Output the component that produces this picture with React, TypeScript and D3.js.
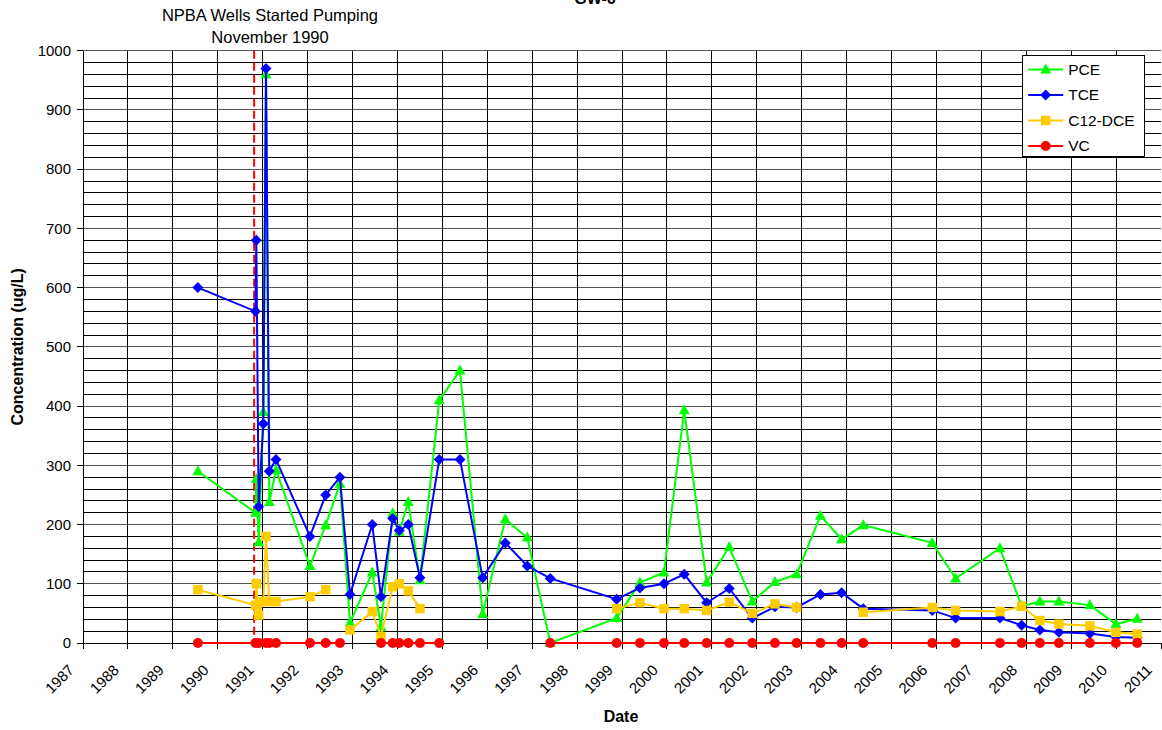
import React from 'react';
import * as d3 from 'd3';

// sample dates as decimal years
const sampleDates = [
  1989.558, 1990.84, 1990.858, 1990.911, 1991.014, 1991.074, 1991.147, 1991.297,
  1992.053, 1992.403, 1992.721, 1992.944, 1993.44, 1993.634, 1993.895, 1994.041,
  1994.242, 1994.502, 1994.932, 1995.393, 1995.898, 1996.401, 1996.891, 1997.403,
  1998.881, 1999.4, 1999.934, 2000.386, 2000.885, 2001.388, 2001.9, 2002.405,
  2002.888, 2003.418, 2003.89, 2004.371, 2005.907, 2006.428, 2007.414, 2007.897,
  2008.304, 2008.727, 2009.417, 2009.996, 2010.47,
];

const pce = [
  290, 220, 277, 170, 390, 960, 238, 292, 130, 199, 269, 34, 119, 27, 219, 188,
  238, 106, 410, 460, 49, 209, 178, 0, 42, 102, 119, 393, 102, 162, 70, 103,
  116, 215, 175, 199, 169, 109, 160, 62, 70, 70, 64, 32, 41,
];

const tce = [
  600, 560, 680, 230, 370, 970, 290, 310, 180, 250, 280, 82, 200, 78, 210, 190,
  200, 110, 310, 310, 110, 169, 130, 109, 74, 93, 100, 116, 68, 92, 42, 61,
  60, 82, 85, 58, 55, 42, 42, 30, 22, 18, 16, 10, 9,
];

const dce = [
  90, 64, 100, 47, 70, 180, 70, 70, 78, 90, null, 22, 53, 11, 95, 100,
  88, 58, null, null, null, null, null, null, 58, 68, 58, 58, 55, 69, 50, 66,
  60, null, null, 52, 60, 55, 53, 62, 38, 32, 29, 18, 15,
];

const vc = [
  0, 0, null, 0, null, 0, 0, 0, 0, 0, 0, null, null, 0, 0, 0,
  0, 0, 0, null, null, null, null, 0, 0, 0, 0, 0, 0, 0, 0, 0,
  0, 0, 0, 0, 0, 0, 0, 0, 0, 0, 0, 0, 0,
];

const yearTicks = d3.range(1987, 2012);
const concTicks = d3.range(0, 1001, 100);
const gridSteps = d3.range(0, 1001, 20);
const pumpingStart = 1990.81;

type Shape = 'triangle' | 'diamond' | 'square' | 'circle';

const seriesList: { name: string; values: (number | null)[]; color: string; shape: Shape }[] = [
  { name: 'PCE', values: pce, color: '#00FF00', shape: 'triangle' },
  { name: 'TCE', values: tce, color: '#0000FF', shape: 'diamond' },
  { name: 'C12-DCE', values: dce, color: '#FFCC00', shape: 'square' },
  { name: 'VC', values: vc, color: '#FF0000', shape: 'circle' },
];

const FONT = "'Liberation Sans', Arial, Helvetica, sans-serif";
const W = 1162;
const H = 730;

function Marker({ shape, color, cx, cy }: { shape: Shape; color: string; cx: number; cy: number }) {
  if (shape === 'triangle')
    return <path d={`M${cx},${cy - 6}L${cx + 5.5},${cy + 4}L${cx - 5.5},${cy + 4}Z`} fill={color} />;
  if (shape === 'diamond')
    return <path d={`M${cx},${cy - 5.5}L${cx + 5.5},${cy}L${cx},${cy + 5.5}L${cx - 5.5},${cy}Z`} fill={color} />;
  if (shape === 'square')
    return <rect x={cx - 4.7} y={cy - 4.7} width={9.4} height={9.4} fill={color} />;
  return <circle cx={cx} cy={cy} r={5} fill={color} />;
}

export default function App() {
  const x = d3.scaleLinear().domain([1987, 2011]).range([83, 1161]);
  const y = d3.scaleLinear().domain([0, 1000]).range([643, 50.7]);

  const line = d3
    .line<[number, number | null]>()
    .defined((d) => d[1] !== null)
    .x((d) => x(d[0]))
    .y((d) => y(d[1] as number));

  const legendX = 1022.7;
  const legendY = 55;

  return (
    <svg width={W} height={H} style={{ position: 'absolute', left: 0, top: 0, background: '#fff' }} fontFamily={FONT}>
      <rect width={W} height={H} fill="#fff" />

      {/* grid */}
      <g shapeRendering="crispEdges" stroke="#000" strokeWidth={1}>
        {gridSteps.map((v) => (
          <line key={'h' + v} x1={x(1987)} x2={x(2011)} y1={y(v)} y2={y(v)} stroke={v % 100 === 0 ? '#555' : '#000'} />
        ))}
        {yearTicks.slice(1, -1).map((yr) => (
          <line key={'v' + yr} x1={x(yr)} x2={x(yr)} y1={y(1000)} y2={y(0)} />
        ))}
      </g>

      {/* axes */}
      <g shapeRendering="crispEdges" stroke="#000">
        <line x1={x(1987)} x2={x(1987)} y1={y(1000)} y2={y(0)} />
        <line x1={x(1987)} x2={x(2011)} y1={y(0)} y2={y(0)} />
        {concTicks.map((v) => (
          <line key={'yt' + v} x1={x(1987) - 6} x2={x(1987)} y1={y(v)} y2={y(v)} />
        ))}
        {yearTicks.map((yr) => (
          <line key={'xt' + yr} x1={x(yr)} x2={x(yr)} y1={y(0)} y2={y(0) + 6} />
        ))}
      </g>
      {concTicks.map((v) => (
        <text key={'yl' + v} x={71} y={y(v)} dy="0.35em" textAnchor="end" fontSize={15} fill="#000">
          {v}
        </text>
      ))}
      {yearTicks.map((yr) => (
        <text
          key={'xl' + yr}
          transform={`translate(${x(yr) - 8},671) rotate(-45)`}
          textAnchor="end"
          fontSize={15}
          fill="#000"
        >
          {yr}
        </text>
      ))}

      {/* pumping start marker */}
      <line
        x1={x(pumpingStart)}
        x2={x(pumpingStart)}
        y1={y(1000)}
        y2={y(0)}
        stroke="#FF0000"
        strokeWidth={2}
        strokeDasharray="8,4"
      />

      {/* series */}
      {seriesList.map((s) => {
        const pts = sampleDates.map((d, i) => [d, s.values[i]] as [number, number | null]);
        return (
          <g key={s.name}>
            <path d={line(pts) ?? ''} fill="none" stroke={s.color} strokeWidth={2} />
            {pts
              .filter((p) => p[1] !== null)
              .map((p, i) => (
                <Marker key={i} shape={s.shape} color={s.color} cx={x(p[0])} cy={y(p[1] as number)} />
              ))}
          </g>
        );
      })}

      {/* legend */}
      <rect x={legendX} y={legendY} width={121.6} height={101.7} fill="#fff" stroke="#000" shapeRendering="crispEdges" />
      {seriesList.map((s, i) => {
        const ly = legendY + 14.5 + i * 25.5;
        return (
          <g key={'lg' + s.name}>
            <line x1={legendX + 5.5} x2={legendX + 40.5} y1={ly} y2={ly} stroke={s.color} strokeWidth={2} />
            <Marker shape={s.shape} color={s.color} cx={legendX + 23} cy={ly} />
            <text x={legendX + 45.5} y={ly} dy="0.35em" fontSize={15.5} fill="#000">
              {s.name}
            </text>
          </g>
        );
      })}

      {/* titles */}
      <text x={595} y={4} textAnchor="middle" fontSize={16} fontWeight="bold" fill="#000">
        GW-6
      </text>
      <text x={270} y={21} textAnchor="middle" fontSize={16.5} fill="#000">
        NPBA Wells Started Pumping
      </text>
      <text x={270} y={43} textAnchor="middle" fontSize={16.5} fill="#000">
        November 1990
      </text>
      <text transform={`translate(23,${y(500)}) rotate(-90)`} textAnchor="middle" fontSize={16} fontWeight="bold" fill="#000">
        Concentration (ug/L)
      </text>
      <text x={621} y={722} textAnchor="middle" fontSize={16} fontWeight="bold" fill="#000">
        Date
      </text>
    </svg>
  );
}
